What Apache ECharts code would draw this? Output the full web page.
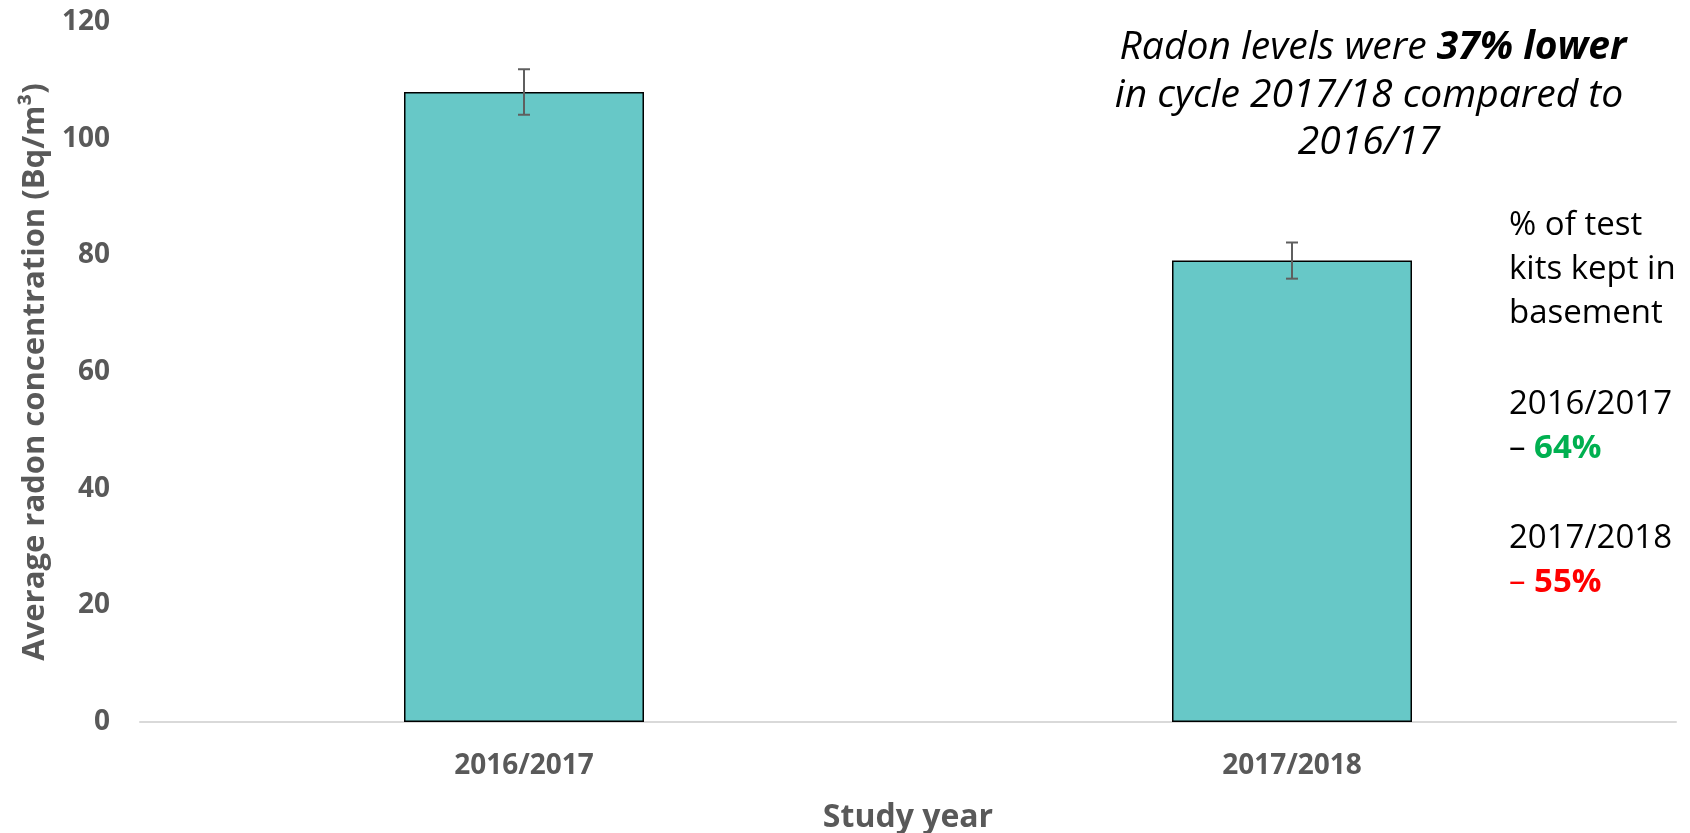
<!DOCTYPE html>
<html>
<head>
<meta charset="utf-8">
<script src="https://cdn.jsdelivr.net/npm/echarts@6/dist/echarts.min.js"></script>
<style>
  html, body { margin: 0; padding: 0; background: #ffffff; }
  #chart { width: 1690px; height: 833px; }
</style>
</head>
<body>
<div id="chart"></div>
<script>
// ---- data ----
const categories = ['2016/2017', '2017/2018'];
const radonValues = [108.0, 79.1];
const radonErrors = [3.9, 3.1];
const yTicks = { min: 0, max: 120, interval: 20 };
const noteLines = ['in cycle 2017/18 compared to', '2016/17'];
const sideLines = ['% of test', 'kits kept in', 'basement'];
const basementYears = ['2016/2017', '2017/2018'];
const basementPct = ['64%', '55%'];

const FONT = '"Open Sans", "Noto Sans", sans-serif';
const GREY = '#595959';

const chart = echarts.init(document.getElementById('chart'));

const errorData = categories.map((c, i) => [i, radonValues[i] + radonErrors[i], radonValues[i] - radonErrors[i]]);

const option = {
  backgroundColor: '#ffffff',
  animation: false,
  grid: { left: 140, right: 14, top: 22, bottom: 111, containLabel: false, outerBoundsMode: 'none' },
  xAxis: {
    type: 'category',
    data: categories,
    axisLine: { show: true, lineStyle: { color: '#d9d9d9', width: 2 } },
    axisTick: { show: false },
    axisLabel: { color: GREY, fontFamily: FONT, fontWeight: 'bold', fontSize: 28, margin: 30 },
    name: 'Study year',
    nameLocation: 'middle',
    nameGap: 80,
    nameTextStyle: { color: GREY, fontFamily: FONT, fontWeight: 'bold', fontSize: 32 }
  },
  yAxis: {
    type: 'value',
    min: yTicks.min,
    max: yTicks.max,
    interval: yTicks.interval,
    splitLine: { show: false },
    axisLine: { show: false },
    axisTick: { show: false },
    axisLabel: { color: GREY, fontFamily: FONT, fontWeight: 'bold', fontSize: 28, margin: 30 },
    name: 'Average radon concentration (Bq/m³)',
    nameLocation: 'middle',
    nameRotate: 90,
    nameGap: 89,
    nameTextStyle: { color: GREY, fontFamily: FONT, fontWeight: 'bold', fontSize: 31 }
  },
  series: [
    {
      type: 'bar',
      data: radonValues,
      barWidth: 240,
      itemStyle: { color: '#67C8C7', borderColor: '#000000', borderWidth: 1.5 },
      z: 2
    },
    {
      type: 'custom',
      data: errorData,
      z: 5,
      renderItem: function (params, api) {
        const idx = api.value(0);
        const top = api.coord([idx, api.value(1)]);
        const bot = api.coord([idx, api.value(2)]);
        const half = 6;
        const st = { stroke: '#5f5f5f', lineWidth: 2 };
        return {
          type: 'group',
          children: [
            { type: 'line', shape: { x1: top[0], y1: top[1], x2: bot[0], y2: bot[1] }, style: st },
            { type: 'line', shape: { x1: top[0] - half, y1: top[1], x2: top[0] + half, y2: top[1] }, style: st },
            { type: 'line', shape: { x1: bot[0] - half, y1: bot[1], x2: bot[0] + half, y2: bot[1] }, style: st }
          ]
        };
      }
    }
  ],
  graphic: [
    {
      type: 'text', x: 1373, y: 48,
      style: {
        text: '{n|Radon levels were }{b|37% lower}',
        align: 'center', verticalAlign: 'middle',
        rich: {
          n: { fontFamily: FONT, fontStyle: 'italic', fontSize: 39, fill: '#000' },
          b: { fontFamily: FONT, fontStyle: 'italic', fontWeight: 'bold', fontSize: 39, fill: '#000' }
        }
      }
    },
    {
      type: 'text', x: 1369, y: 96,
      style: { text: noteLines[0], align: 'center', verticalAlign: 'middle', fontFamily: FONT, fontStyle: 'italic', fontSize: 39, fill: '#000' }
    },
    {
      type: 'text', x: 1369, y: 143,
      style: { text: noteLines[1], align: 'center', verticalAlign: 'middle', fontFamily: FONT, fontStyle: 'italic', fontSize: 39, fill: '#000' }
    },
    ...sideLines.map((t, i) => ({
      type: 'text', x: 1509, y: 226 + i * 44,
      style: { text: t, align: 'left', verticalAlign: 'middle', fontFamily: FONT, fontSize: 33, fill: '#000' }
    })),
    {
      type: 'text', x: 1509, y: 405,
      style: { text: basementYears[0], align: 'left', verticalAlign: 'middle', fontFamily: FONT, fontSize: 33, fill: '#000' }
    },
    {
      type: 'text', x: 1509, y: 449,
      style: {
        text: '{d|– }{p|' + basementPct[0] + '}',
        align: 'left', verticalAlign: 'middle',
        rich: {
          d: { fontFamily: FONT, fontSize: 33, fill: '#000' },
          p: { fontFamily: FONT, fontSize: 33, fontWeight: 'bold', fill: '#00B050' }
        }
      }
    },
    {
      type: 'text', x: 1509, y: 539,
      style: { text: basementYears[1], align: 'left', verticalAlign: 'middle', fontFamily: FONT, fontSize: 33, fill: '#000' }
    },
    {
      type: 'text', x: 1509, y: 583,
      style: {
        text: '{d|– }{p|' + basementPct[1] + '}',
        align: 'left', verticalAlign: 'middle',
        rich: {
          d: { fontFamily: FONT, fontSize: 33, fill: '#FF0000' },
          p: { fontFamily: FONT, fontSize: 33, fontWeight: 'bold', fill: '#FF0000' }
        }
      }
    }
  ]
};

chart.setOption(option);
</script>
</body>
</html>
